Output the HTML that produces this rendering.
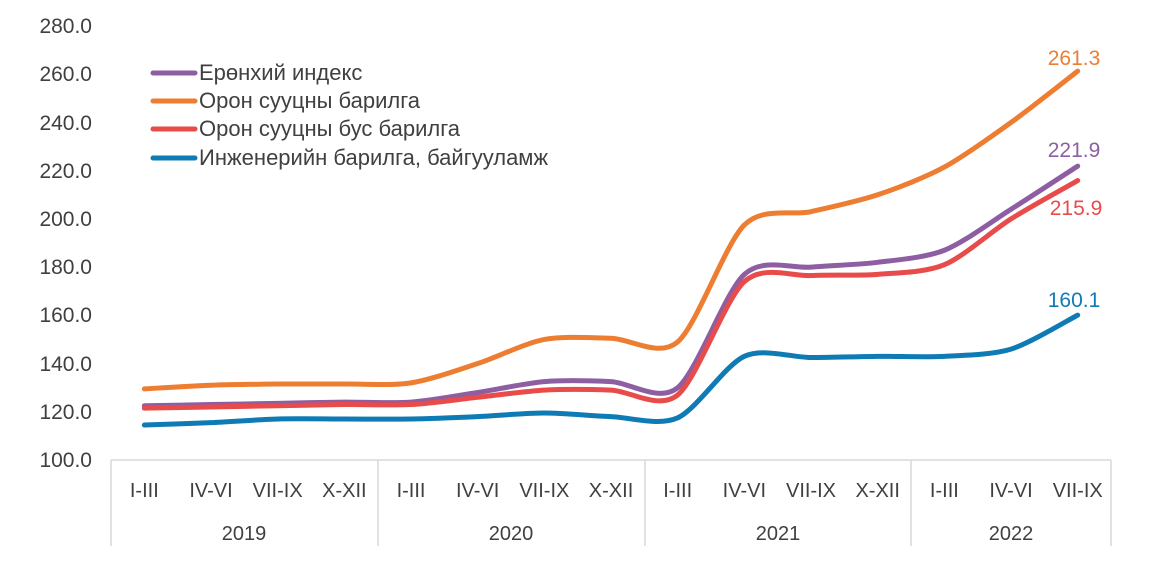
<!DOCTYPE html>
<html><head><meta charset="utf-8"><style>
body{margin:0;background:#fff;}
svg{display:block;font-family:"Liberation Sans",sans-serif;}
</style></head><body>
<svg id="c" width="1173" height="579" xmlns="http://www.w3.org/2000/svg">
<g fill="#404040" font-size="21" text-anchor="end">
<text x="92" y="33">280.0</text><text x="92" y="81">260.0</text><text x="92" y="130">240.0</text>
<text x="92" y="178">220.0</text><text x="92" y="226">200.0</text><text x="92" y="274">180.0</text>
<text x="92" y="322">160.0</text><text x="92" y="371">140.0</text><text x="92" y="419">120.0</text>
<text x="92" y="467">100.0</text>
</g>
<g stroke="#d9d9d9" stroke-width="1.5">
<line x1="111" y1="460" x2="1111" y2="460"/>
<line x1="111" y1="460" x2="111" y2="546"/>
<line x1="378" y1="460" x2="378" y2="546"/>
<line x1="645" y1="460" x2="645" y2="546"/>
<line x1="911" y1="460" x2="911" y2="546"/>
<line x1="1111" y1="460" x2="1111" y2="546"/>
</g>
<g id="xl" fill="#404040" font-size="20" text-anchor="middle"></g>
<g fill="#404040" font-size="20" text-anchor="middle">
<text x="244" y="540">2019</text><text x="511" y="540">2020</text><text x="778" y="540">2021</text><text x="1011" y="540">2022</text>
</g>
<g id="lines" fill="none" stroke-width="5" stroke-linecap="round"></g>
<g font-size="22">
<line x1="153" y1="73" x2="195" y2="73" stroke="#8e5ea2" stroke-width="5" stroke-linecap="round"/>
<line x1="153" y1="101" x2="195" y2="101" stroke="#ed7d31" stroke-width="5" stroke-linecap="round"/>
<line x1="153" y1="129" x2="195" y2="129" stroke="#e84c4a" stroke-width="5" stroke-linecap="round"/>
<line x1="153" y1="158" x2="195" y2="158" stroke="#0f7bb5" stroke-width="5" stroke-linecap="round"/>
<g fill="#404040"><text x="199" y="80">Ерөнхий индекс</text><text x="199" y="108">Орон сууцны барилга</text>
<text x="199" y="136">Орон сууцны бус барилга</text><text x="199" y="165">Инженерийн барилга, байгууламж</text></g>
</g>
<g font-size="21" text-anchor="middle">
<text x="1074" y="65" fill="#ed7d31">261.3</text>
<text x="1074" y="157" fill="#8e5ea2">221.9</text>
<text x="1076" y="215" fill="#e84c4a">215.9</text>
<text x="1074" y="307" fill="#0f7bb5">160.1</text>
</g>
</svg>
<script>
var labs=["I-III","IV-VI","VII-IX","X-XII","I-III","IV-VI","VII-IX","X-XII","I-III","IV-VI","VII-IX","X-XII","I-III","IV-VI","VII-IX"];
var xs=labs.map(function(_,i){return 111+66.67*(i+0.5);});
var xl=document.getElementById('xl'),ns="http://www.w3.org/2000/svg";
labs.forEach(function(l,i){var t=document.createElementNS(ns,'text');t.setAttribute('x',xs[i]);t.setAttribute('y',497);t.textContent=l;xl.appendChild(t);});
var S=[
["#ed7d31",[129.5,131,131.5,131.5,132,140,150,150.5,149,197.5,203,210,221.5,240,261.3]],
["#8e5ea2",[122.5,123,123.5,124,124,128,132.5,132.5,130,177,180,182,187,204,221.9]],
["#e84c4a",[121.5,122,122.5,123,123,126,129,129,127,174,176.5,177,181,200,215.9]],
["#0f7bb5",[114.5,115.5,117,117,117,118,119.5,118,117.5,143,142.5,143,143,146,160.1]]];
var g=document.getElementById('lines');
S.forEach(function(s){
 var p=s[1].map(function(v,i){return [xs[i],460-(v-100)*2.411];});
 var d="M"+p[0][0]+","+p[0][1];
 for(var i=0;i<p.length-1;i++){
  var p0=p[Math.max(0,i-1)],p1=p[i],p2=p[i+1],p3=p[Math.min(p.length-1,i+2)],k=7;
  d+=" C"+(p1[0]+(p2[0]-p0[0])/k)+","+(p1[1]+(p2[1]-p0[1])/k)+" "+(p2[0]-(p3[0]-p1[0])/k)+","+(p2[1]-(p3[1]-p1[1])/k)+" "+p2[0]+","+p2[1];
 }
 var e=document.createElementNS(ns,'path');e.setAttribute('d',d);e.setAttribute('stroke',s[0]);g.appendChild(e);
});
</script>
</body></html>
